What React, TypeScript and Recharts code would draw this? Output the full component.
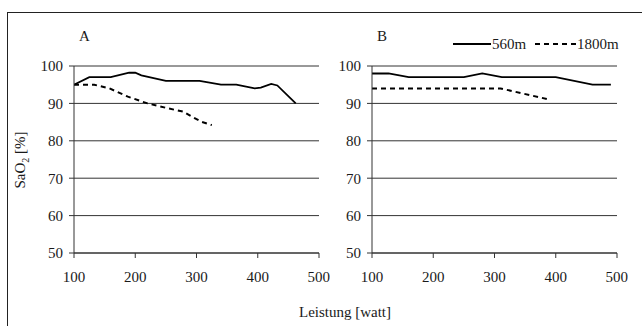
import { CartesianGrid, Line, LineChart, XAxis, YAxis } from 'recharts'

// Leistung [watt] on x, SaO2 [%] on y
const wattTicks = [100, 200, 300, 400, 500]
const saTicks = [50, 60, 70, 80, 90, 100]

// Panel A
const aWatt560 = [100, 125, 160, 190, 200, 210, 250, 305, 340, 365, 395, 405, 422, 432, 462]
const aSa560 = [95, 97, 97, 98.2, 98.2, 97.5, 96, 96, 95, 95, 94, 94.2, 95.2, 94.8, 90]
const aWatt1800 = [100, 133, 158, 188, 220, 253, 278, 294, 308, 325]
const aSa1800 = [95, 95, 94, 91.8, 90, 88.7, 87.8, 86.3, 85.1, 84.2]

// Panel B
const bWatt560 = [100, 127, 160, 250, 280, 312, 400, 460, 490]
const bSa560 = [98, 98, 97, 97, 98, 97, 97, 95, 95]
const bWatt1800 = [100, 310, 390]
const bSa1800 = [94, 94, 91]

const font = '"Liberation Serif", "Times New Roman", serif'
const ink = '#1a1a1a'
const tick = { fill: ink, fontSize: 15, fontFamily: font }

const toPoints = (w: number[], s: number[]) => w.map((x, i) => ({ x, y: s[i] }))

function Panel({
  left,
  name,
  solid,
  dashed,
}: {
  left: number
  name: string
  solid: { x: number; y: number }[]
  dashed: { x: number; y: number }[]
}) {
  return (
    <div style={{ position: 'absolute', left, top: 0 }}>
      <LineChart width={330} height={326} margin={{ top: 66, right: 11, bottom: 33, left: 0 }}>
        <CartesianGrid horizontal vertical={false} stroke="#333" strokeWidth={1} />
        <XAxis
          dataKey="x"
          type="number"
          domain={[100, 500]}
          ticks={wattTicks}
          tick={tick}
          tickSize={5}
          tickMargin={13}
          height={40}
          stroke="#333"
          allowDataOverflow
        />
        <YAxis
          dataKey="y"
          type="number"
          domain={[50, 100]}
          ticks={saTicks}
          tick={tick}
          tickSize={5}
          tickMargin={6}
          width={74}
          stroke="#333"
        />
        <Line data={solid} dataKey="y" stroke="#000" strokeWidth={1.8} dot={false} isAnimationActive={false} />
        <Line
          data={dashed}
          dataKey="y"
          stroke="#000"
          strokeWidth={2}
          strokeDasharray="5 4"
          dot={false}
          isAnimationActive={false}
        />
      </LineChart>
      <div style={{ position: 'absolute', left: left === 0 ? 79 : 79, top: 28, fontFamily: font, fontSize: 15 }}>
        {name}
      </div>
    </div>
  )
}

export default function App() {
  return (
    <div
      style={{
        position: 'absolute',
        left: 0,
        top: 0,
        width: 642,
        height: 326,
        overflow: 'hidden',
        background: '#fff',
        fontFamily: font,
        color: ink,
      }}
    >
      <div style={{ position: 'absolute', left: 7, top: 12, width: 700, height: 400, border: '1px solid #222' }} />
      <Panel left={0} name="A" solid={toPoints(aWatt560, aSa560)} dashed={toPoints(aWatt1800, aSa1800)} />
      <Panel left={298} name="B" solid={toPoints(bWatt560, bSa560)} dashed={toPoints(bWatt1800, bSa1800)} />

      {/* legend */}
      <svg style={{ position: 'absolute', left: 0, top: 0 }} width={642} height={326}>
        <line x1={453} x2={491} y1={44} y2={44} stroke="#000" strokeWidth={1.8} />
        <text x={492} y={49} fontSize={15} fontFamily={font} fill={ink}>
          560m
        </text>
        <line x1={535} x2={576} y1={44} y2={44} stroke="#000" strokeWidth={2} strokeDasharray="5 4" />
        <text x={577} y={49} fontSize={15} fontFamily={font} fill={ink}>
          1800m
        </text>
        <text transform="translate(25,160) rotate(-90)" textAnchor="middle" fontSize={15} fontFamily={font} fill={ink}>
          SaO
          <tspan fontSize={10} dy={4}>
            2
          </tspan>
          <tspan dy={-4}> [%]</tspan>
        </text>
        <text x={345} y={317} textAnchor="middle" fontSize={15} fontFamily={font} fill={ink}>
          Leistung [watt]
        </text>
      </svg>
    </div>
  )
}
